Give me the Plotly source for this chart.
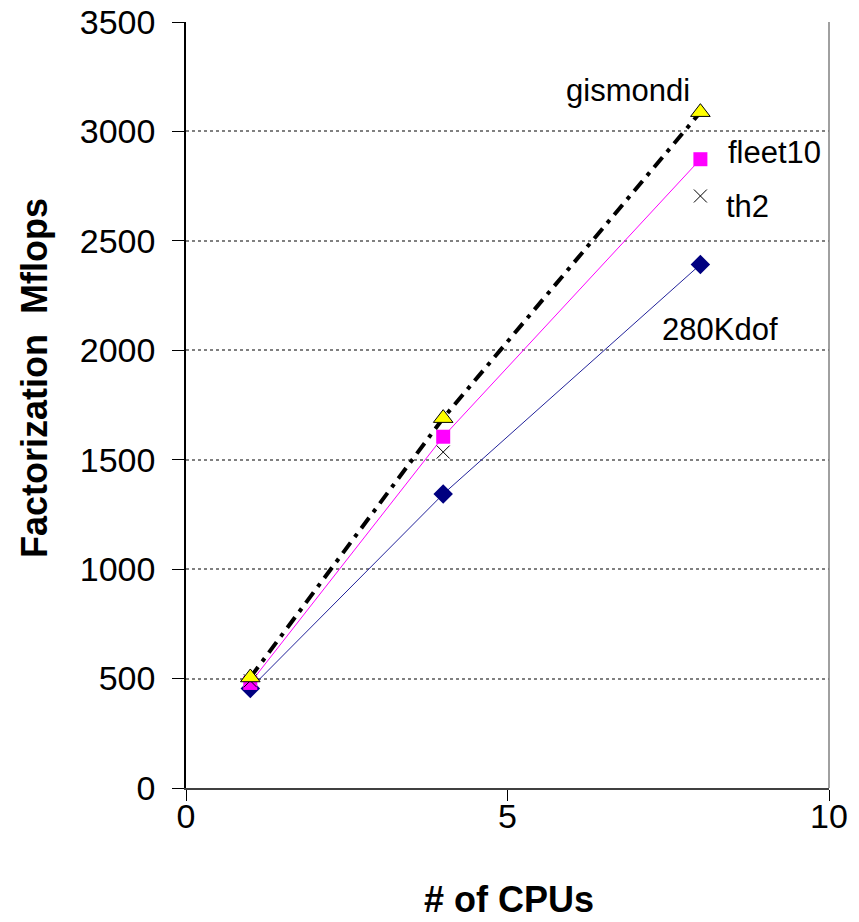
import plotly.graph_objects as go

cpus = [1, 4, 8]
kdof280 = [455, 1343, 2392]
fleet10 = [480, 1605, 2873]
th2 = [490, 1535, 2705]
gismondi = [505, 1690, 3088]

x_ticks = [0, 5, 10]
y_ticks = [0, 500, 1000, 1500, 2000, 2500, 3000, 3500]

labels = ["gismondi", "fleet10", "th2", "280Kdof"]
label_x = [6.87, 9.16, 8.74, 8.30]
label_y = [3185, 2906, 2655, 2093]

FONT = "Liberation Sans, Arial, sans-serif"

fig = go.Figure()
fig.add_trace(go.Scatter(
    x=cpus, y=kdof280, mode="lines+markers", name="280Kdof",
    line=dict(color="#22229a", width=1),
    marker=dict(symbol="diamond", size=15, color="#000080",
                line=dict(width=0))))
fig.add_trace(go.Scatter(
    x=cpus, y=fleet10, mode="lines+markers", name="fleet10",
    line=dict(color="#FF00FF", width=1),
    marker=dict(symbol="square", size=14, color="#FF00FF",
                line=dict(width=0))))
fig.add_trace(go.Scatter(
    x=cpus, y=th2, mode="markers", name="th2",
    marker=dict(symbol="x-thin", size=13, color="#000000",
                line=dict(width=1, color="#000000"))))
fig.add_trace(go.Scatter(
    x=cpus, y=gismondi, mode="lines+markers", name="gismondi",
    line=dict(color="#000000", width=4, dash="13px,7px,4px,7px"),
    marker=dict(symbol="triangle-up", size=17, color="#FFFF00",
                line=dict(width=1, color="#000000"))))

for t, lx, ly in zip(labels, label_x, label_y):
    fig.add_annotation(x=lx, y=ly, xref="x", yref="y", text=t,
                       showarrow=False,
                       font=dict(family=FONT, size=31, color="#000000"))

# axis titles as annotations (positioned in paper coordinates)
fig.add_annotation(text="<b>Factorization  Mflops</b>", textangle=-90,
                   xref="paper", yref="paper",
                   x=(34 - 186) / 643, y=(788 - 378) / 766,
                   xanchor="center", yanchor="middle", showarrow=False,
                   font=dict(family=FONT, size=36, color="#000000"))
fig.add_annotation(text="<b># of CPUs</b>",
                   xref="paper", yref="paper",
                   x=(509 - 186) / 643, y=-(899 - 788) / 766,
                   xanchor="center", yanchor="middle", showarrow=False,
                   font=dict(family=FONT, size=36, color="#000000"))

fig.add_shape(type="line", xref="paper", yref="paper",
              x0=1, x1=1, y0=0, y1=1,
              line=dict(color="#808080", width=1.5))

fig.update_layout(
    width=859, height=922,
    margin=dict(l=186, r=30, t=22, b=134, autoexpand=False),
    paper_bgcolor="white", plot_bgcolor="white",
    showlegend=False,
    font=dict(family=FONT, size=34, color="#000000"),
    xaxis=dict(range=[0, 10], tickvals=x_ticks, showgrid=False,
               zeroline=False, showline=True, linecolor="#404040",
               linewidth=1.5, ticks="outside", ticklen=11,
               tickcolor="#000000", tickwidth=1, automargin=False,
               ticklabelstandoff=-14,
               tickfont=dict(family=FONT, size=34)),
    yaxis=dict(range=[0, 3500], tickvals=y_ticks, showgrid=True,
               gridcolor="#808080", griddash="dot", gridwidth=1.5,
               zeroline=False, showline=True, linecolor="#000000",
               linewidth=1.5, ticks="outside", ticklen=12,
               tickcolor="#000000", tickwidth=1, automargin=False,
               ticklabelstandoff=10,
               tickfont=dict(family=FONT, size=34)),
)

fig.write_html("out.html")
